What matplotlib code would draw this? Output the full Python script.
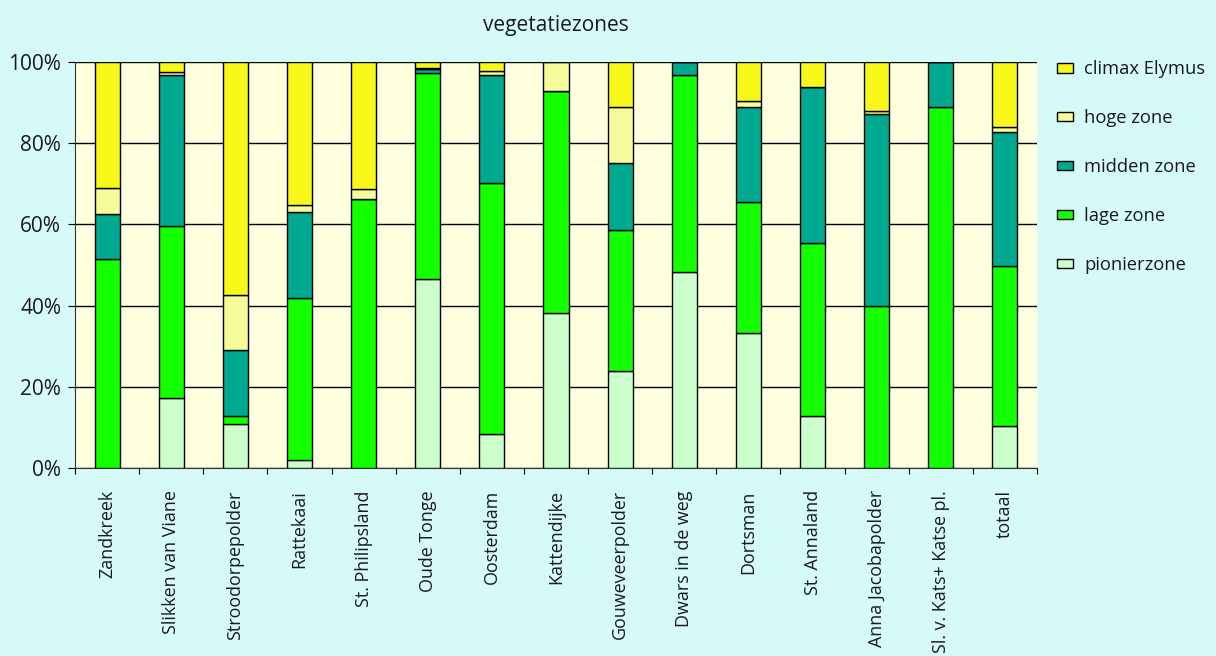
import matplotlib
matplotlib.use("Agg")
import matplotlib.pyplot as plt
import numpy as np
from matplotlib.patches import Patch
from matplotlib.ticker import PercentFormatter

locations = [
    "Zandkreek", "Slikken van Viane", "Stroodorpepolder", "Rattekaai",
    "St. Philipsland", "Oude Tonge", "Oosterdam", "Kattendijke",
    "Gouweveerpolder", "Dwars in de weg", "Dortsman", "St. Annaland",
    "Anna Jacobapolder", "Sl. v. Kats+ Katse pl.", "totaal",
]

# percentage per zone (bottom to top)
pionierzone = [0.0, 17.2, 10.8, 2.0, 0.0, 46.5, 8.4, 38.3, 23.9, 48.2, 33.3, 12.9, 0.0, 0.0, 10.3]
lage_zone = [51.5, 42.4, 2.1, 39.8, 66.3, 50.9, 61.7, 54.6, 34.7, 48.6, 32.2, 42.4, 40.0, 88.8, 39.5]
midden_zone = [11.1, 37.1, 16.2, 21.2, 0.0, 0.9, 26.7, 0.0, 16.6, 3.2, 23.3, 38.6, 47.1, 11.2, 33.0]
hoge_zone = [6.4, 0.8, 13.5, 1.7, 2.3, 0.3, 1.0, 7.1, 13.6, 0.0, 1.7, 0.0, 0.8, 0.0, 1.3]
climax_elymus = [31.0, 2.5, 57.4, 35.3, 31.4, 1.4, 2.2, 0.0, 11.2, 0.0, 9.5, 6.1, 12.1, 0.0, 15.9]

zones = [
    ("pionierzone", pionierzone, "#CCFFCC"),
    ("lage zone", lage_zone, "#14FF00"),
    ("midden zone", midden_zone, "#00A88F"),
    ("hoge zone", hoge_zone, "#F5FA9A"),
    ("climax Elymus", climax_elymus, "#F7F71A"),
]

plt.rcParams["font.family"] = ["Open Sans", "DejaVu Sans"]
text_color = "#1a1a1a"

fig = plt.figure(figsize=(12.16, 6.56), dpi=100, facecolor="#D5FAF8")
ax = fig.add_axes([75 / 1216, 1 - 468 / 656, (1037 - 75) / 1216, (468 - 62) / 656])
ax.set_facecolor("#FFFFE0")

x = np.arange(len(locations))
bottom = np.zeros(len(locations))
for name, vals, color in zones:
    vals = np.array(vals)
    ax.bar(x, vals, width=0.39, bottom=bottom, color=color,
           edgecolor="black", linewidth=1.0, label=name, zorder=3)
    bottom += vals

ax.set_xlim(-0.5, len(locations) - 0.5)
ax.set_ylim(0, 100)
ax.set_yticks(np.arange(0, 101, 20))
ax.yaxis.set_major_formatter(PercentFormatter(decimals=0))
ax.grid(axis="y", color="black", linewidth=1.0, zorder=1)

ax.set_xticks(np.arange(-0.5, len(locations), 1.0))
ax.set_xticklabels([])
ax.set_xticks(x, minor=True)
ax.set_xticklabels(locations, minor=True, rotation=90, fontsize=12.9, color=text_color)
ax.tick_params(axis="x", which="minor", length=0, pad=16)
ax.tick_params(axis="x", which="major", length=4, direction="out")
ax.tick_params(axis="y", length=5, labelsize=15, pad=5, labelcolor=text_color)

for side in ["top", "right"]:
    ax.spines[side].set_visible(False)
ax.spines["left"].set_color("#333333")
ax.spines["bottom"].set_color("#333333")

ax.set_title("vegetatiezones", fontsize=15, pad=22, color=text_color)

handles = [Patch(facecolor=c, edgecolor="black", label=n) for n, _, c in zones][::-1]
fig.legend(handles=handles, loc="upper left", bbox_to_anchor=(1040 / 1216, 1 - 44 / 656),
           frameon=False, fontsize=13.2, handlelength=0.9, handleheight=0.4,
           labelspacing=1.68, handletextpad=0.6, labelcolor=text_color)

fig.savefig("out.png", dpi=100, facecolor=fig.get_facecolor())
